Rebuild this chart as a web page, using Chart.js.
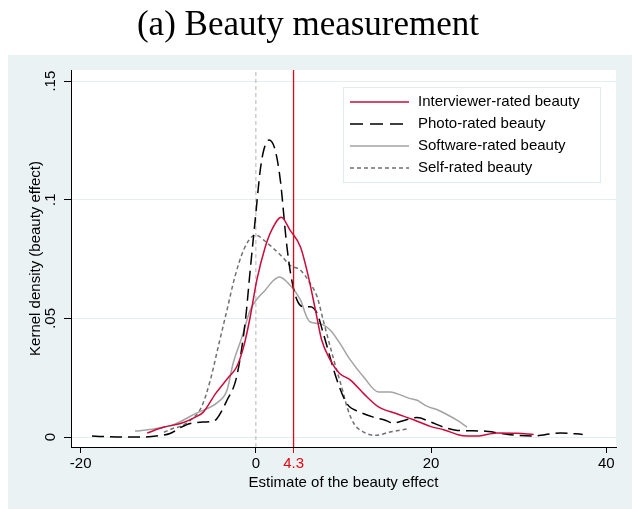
<!DOCTYPE html>
<html>
<head>
<meta charset="utf-8">
<script src="https://cdn.jsdelivr.net/npm/chart.js@4.4.1/dist/chart.umd.min.js"></script>
<style>
  html, body { margin: 0; padding: 0; background: #fff; }
  #wrap { width: 634px; height: 509px; position: relative; }
</style>
</head>
<body>
<div id="wrap"><canvas id="chart" width="634" height="509"></canvas></div>
<script>
// Kernel densities (x = estimate, y = density)
const interviewerX = [-12.4, -10.5, -8.5, -6.9, -6.0, -4.6, -3.1, -2.2, -1.4, -0.65, 0.1, 1.06, 1.8, 2.9, 3.9, 5.1, 6.0, 6.8, 7.5, 8.5, 9.5, 10.8, 12.3, 14.0, 16.0, 18.0, 19.9, 21.5, 23.3, 25.2, 27.5, 29.8, 31.7];
const interviewerY = [0.0017, 0.0042, 0.0058, 0.0084, 0.0105, 0.0183, 0.0253, 0.0295, 0.038, 0.0506, 0.066, 0.080, 0.0872, 0.0926, 0.0872, 0.080, 0.0675, 0.0535, 0.041, 0.0324, 0.027, 0.024, 0.0183, 0.0127, 0.0099, 0.0073, 0.0045, 0.003, 0.0008, 0.0004, 0.0017, 0.0016, 0.0011];

const photoX = [-18.7, -17.5, -15.0, -13.0, -11.0, -9.8, -8.6, -7.5, -6.0, -5.0, -4.5, -3.3, -2.2, -1.2, -0.65, -0.08, 0.5, 0.9, 1.5, 2.2, 2.8, 3.5, 4.1, 4.7, 5.4, 6.2, 7.0, 7.7, 9.3, 10.4, 11.9, 13.4, 14.6, 15.7, 16.9, 18.4, 19.9, 21.4, 23.0, 26.0, 28.0, 29.8, 31.7, 33.0, 34.8, 37.3];
const photoY = [0.0004, 0.0002, 0.0, 0.0, 0.0006, 0.0015, 0.004, 0.0057, 0.0063, 0.0066, 0.0075, 0.0155, 0.0253, 0.049, 0.0703, 0.0914, 0.1125, 0.121, 0.1252, 0.121, 0.108, 0.0816, 0.066, 0.0577, 0.0549, 0.0549, 0.052, 0.0436, 0.0235, 0.014, 0.0105, 0.0084, 0.0073, 0.0059, 0.007, 0.0082, 0.0064, 0.0042, 0.0028, 0.0025, 0.0015, 0.0007, 0.0004, 0.001, 0.0017, 0.0011];

const softwareX = [-13.8, -11.5, -9.4, -6.9, -4.3, -3.3, -2.6, -1.6, -0.65, 0.1, 1.06, 2.0, 2.7, 3.9, 5.1, 5.8, 6.2, 7.3, 8.5, 9.5, 10.8, 12.3, 14.0, 15.3, 16.1, 17.6, 18.4, 19.5, 20.7, 21.8, 23.0, 24.1];
const softwareY = [0.0025, 0.0035, 0.0052, 0.0099, 0.0148, 0.0197, 0.031, 0.042, 0.0535, 0.058, 0.0619, 0.066, 0.0675, 0.064, 0.0577, 0.0506, 0.0485, 0.0478, 0.045, 0.040, 0.0324, 0.0253, 0.019, 0.019, 0.0183, 0.0162, 0.0155, 0.013, 0.0115, 0.0095, 0.007, 0.0042];

const selfX = [-10.5, -9.4, -8.6, -7.5, -6.2, -5.2, -4.3, -3.3, -2.4, -1.4, -0.46, 0.1, 0.9, 2.0, 3.0, 3.9, 5.1, 6.2, 7.0, 7.7, 8.9, 10.0, 10.4, 11.2, 12.3, 13.6, 15.3, 17.4];
const selfY = [0.002, 0.0037, 0.0045, 0.007, 0.0127, 0.024, 0.038, 0.0535, 0.0675, 0.0788, 0.0844, 0.085, 0.083, 0.0795, 0.076, 0.0724, 0.0703, 0.0647, 0.059, 0.049, 0.0324, 0.0183, 0.0127, 0.0056, 0.0021, 0.0007, 0.0021, 0.0035];

const seriesNames = ['Interviewer-rated beauty', 'Photo-rated beauty', 'Software-rated beauty', 'Self-rated beauty'];

// reference lines: zero and the mean effect
const zeroLineX = 0;
const effectLineX = 4.3;

// axes
const xMin = -21.1, xMax = 41.1;
const yMin = -0.0042, yMax = 0.1547;
const xTickValues = [-20, 0, 4.3, 20, 40];
const xTickLabels = ['-20', '0', '4.3', '20', '40'];
const yTickValues = [0, 0.05, 0.1, 0.15];
const yTickLabels = ['0', '.05', '.1', '.15'];

const RED = '#e30613';
const SANS = '"Liberation Sans", Arial, sans-serif';

function pts(xs, ys) {
   return xs.map((x, i) => ({ x: x, y: ys[i] }));
}

function vline(x) {
   return [{ x: x, y: yMin }, { x: x, y: yMax }];
}

// panel background + white plot region
const panelPlugin = {
   id: 'panel',
   beforeDraw(chart) {
      const ctx = chart.ctx, a = chart.chartArea;
      ctx.save();
      ctx.fillStyle = '#ffffff';
      ctx.fillRect(0, 0, chart.width, chart.height);
      ctx.fillStyle = '#eaf2f3';
      ctx.fillRect(8, 55, chart.width - 10, chart.height - 55);
      ctx.fillStyle = '#ffffff';
      ctx.fillRect(a.left, a.top, a.right - a.left, a.bottom - a.top);
      ctx.restore();
   }
};

// rotated y tick labels and legend box inside the plot
const extrasPlugin = {
   id: 'extras',
   afterDraw(chart) {
      const ctx = chart.ctx, a = chart.chartArea;
      const y = chart.scales.y;
      ctx.save();
      ctx.font = '15px ' + SANS;
      ctx.fillStyle = '#000';
      ctx.textAlign = 'center';
      ctx.textBaseline = 'middle';
      yTickValues.forEach((v, i) => {
         ctx.save();
         ctx.translate(51, y.getPixelForValue(v));
         ctx.rotate(-Math.PI / 2);
         ctx.fillText(yTickLabels[i], 0, 0);
         ctx.restore();
      });

      // legend
      const bx = a.right - 273, by = a.top + 17, bw = 257, bh = 95;
      ctx.fillStyle = '#ffffff';
      ctx.fillRect(bx, by, bw, bh);
      ctx.strokeStyle = '#e2ebed';
      ctx.lineWidth = 1;
      ctx.strokeRect(bx + 0.5, by + 0.5, bw, bh);
      const items = chart.data.datasets.filter(d => d.inLegend);
      ctx.textAlign = 'left';
      items.forEach((d, i) => {
         const ry = by + 15 + i * 22;
         ctx.save();
         ctx.strokeStyle = d.borderColor;
         ctx.lineWidth = d.borderWidth;
         ctx.setLineDash(d.legendDash || []);
         ctx.beginPath();
         ctx.moveTo(bx + 7, ry);
         ctx.lineTo(bx + 66, ry);
         ctx.stroke();
         ctx.restore();
         ctx.fillStyle = '#000';
         ctx.fillText(d.label, bx + 75, ry);
      });
      ctx.restore();
   }
};

const curveBase = { showLine: true, pointRadius: 0, borderWidth: 1.5, cubicInterpolationMode: 'monotone', fill: false, inLegend: true, order: 1 };

new Chart(document.getElementById('chart'), {
   type: 'scatter',
   data: {
      datasets: [
         Object.assign({}, curveBase, { label: seriesNames[0], data: pts(interviewerX, interviewerY), borderColor: '#cc0a3c' }),
         Object.assign({}, curveBase, { label: seriesNames[1], data: pts(photoX, photoY), borderColor: '#000000', borderDash: [12, 6], legendDash: [13, 7] }),
         Object.assign({}, curveBase, { label: seriesNames[2], data: pts(softwareX, softwareY), borderColor: '#a3a3a3' }),
         Object.assign({}, curveBase, { label: seriesNames[3], data: pts(selfX, selfY), borderColor: '#707070', borderDash: [4, 3], legendDash: [4, 3] }),
         { label: 'effect', data: vline(effectLineX), showLine: true, pointRadius: 0, borderColor: RED, borderWidth: 1.3, order: 0 },
         { label: 'zero', data: vline(zeroLineX), showLine: true, pointRadius: 0, borderColor: '#b4b4b4', borderWidth: 1, borderDash: [4, 3], order: 2 }
      ]
   },
   options: {
      responsive: false,
      animation: false,
      events: [],
      layout: { padding: { left: 0, right: 18, top: 0, bottom: 0 } },
      plugins: {
         legend: { display: false },
         tooltip: { enabled: false },
         title: {
            display: true,
            text: '(a) Beauty measurement',
            color: '#000',
            font: { family: '"Liberation Serif", "Times New Roman", serif', size: 35, weight: 'normal' },
            padding: { top: 5, bottom: 23 }
         }
      },
      scales: {
         x: {
            type: 'linear',
            min: xMin,
            max: xMax,
            afterBuildTicks: s => { s.ticks = xTickValues.map(v => ({ value: v })); },
            afterFit: s => { s.height = 62; },
            ticks: {
               autoSkip: false,
               maxRotation: 0,
               padding: 2,
               font: { family: SANS, size: 15 },
               color: c => (c.tick && c.tick.value === effectLineX ? RED : '#000'),
               callback: (v, i) => xTickLabels[i]
            },
            grid: {
               drawOnChartArea: false,
               drawTicks: true,
               tickLength: 6,
               tickColor: c => (c.tick && c.tick.value === effectLineX ? RED : '#000')
            },
            border: { display: true, color: '#000', width: 1 },
            title: {
               display: true,
               text: 'Estimate of the beauty effect',
               color: '#000',
               font: { family: SANS, size: 15 },
               padding: { top: 0, bottom: 17 }
            }
         },
         y: {
            type: 'linear',
            min: yMin,
            max: yMax,
            afterBuildTicks: s => { s.ticks = yTickValues.map(v => ({ value: v })); },
            afterFit: s => { s.width = 71; },
            ticks: { display: false },
            grid: {
               color: '#e4edef',
               lineWidth: 1,
               drawTicks: true,
               tickLength: 7,
               tickColor: '#000'
            },
            border: { display: true, color: '#000', width: 1 },
            title: {
               display: true,
               text: 'Kernel density (beauty effect)',
               color: '#000',
               font: { family: SANS, size: 15 },
               padding: { top: 27, bottom: 0 }
            }
         }
      }
   },
   plugins: [panelPlugin, extrasPlugin]
});
</script>
</body>
</html>
